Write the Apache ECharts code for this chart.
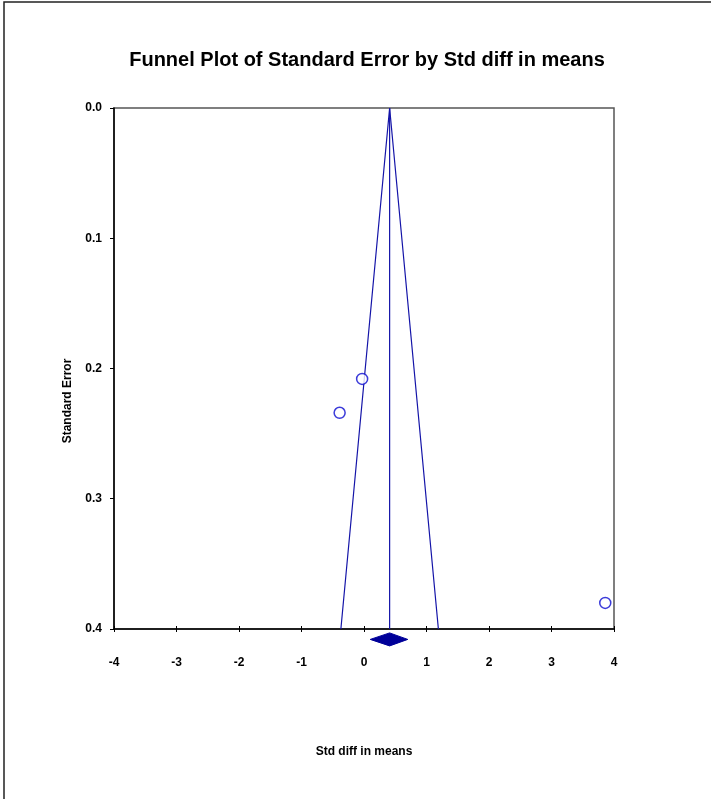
<!DOCTYPE html>
<html>
<head>
<meta charset="utf-8">
<script src="https://cdn.jsdelivr.net/npm/echarts@6/dist/echarts.min.js"></script>
<style>html,body{margin:0;padding:0;background:#fff}#c{width:711px;height:799px}</style>
</head>
<body>
<div id="c"></div>
<script>
// Study points: [Std diff in means, Standard Error]
const studyEffects = [-0.03, -0.39, 3.86];
const studyErrors = [0.208, 0.234, 0.380];
// Funnel: [x, se]
const funnelX = [-0.37, 0.41, 1.19];
const funnelSE = [0.4, 0.0, 0.4];
const centerX = [0.41, 0.41];
const centerSE = [0.0, 0.4];
// Pooled estimate diamond: lower, mean, upper
const pooled = [0.10, 0.41, 0.70];
const pooledSE = 0.408;
const xTicks = [-4, -3, -2, -1, 0, 1, 2, 3, 4];
const yTicks = ['0.0', '0.1', '0.2', '0.3', '0.4'];

const chart = echarts.init(document.getElementById('c'), null, {renderer: 'canvas'});
const blue = '#1414a8';
const font = '"Liberation Sans", Arial, sans-serif';

chart.setOption({
  animation: false,
  backgroundColor: '#fff',
  title: {
    text: 'Funnel Plot of Standard Error by Std diff in means',
    left: 362, top: 45, textAlign: 'center',
    textStyle: {fontFamily: font, fontWeight: 'bold', fontSize: 20, color: '#000'}
  },
  grid: {left: 114, top: 108, width: 500, height: 521, show: true, borderColor: '#555', borderWidth: 1.5, backgroundColor: 'transparent'},
  xAxis: [{
    type: 'value', min: xTicks[0], max: xTicks[xTicks.length - 1], interval: 1,
    position: 'bottom',
    axisLine: {show: true, onZero: false, lineStyle: {color: '#000', width: 1.5}},
    axisTick: {show: true, inside: true, length: 3, lineStyle: {color: '#000'}},
    axisLabel: {margin: 28, fontFamily: font, fontWeight: 'bold', fontSize: 12, color: '#000'},
    splitLine: {show: false}
  }, {
    type: 'value', min: xTicks[0], max: xTicks[xTicks.length - 1], interval: 1,
    position: 'bottom',
    axisLine: {show: false, onZero: false},
    axisTick: {show: true, inside: false, length: 3, lineStyle: {color: '#000'}},
    axisLabel: {show: false},
    splitLine: {show: false}
  }],
  yAxis: {
    type: 'value', min: 0, max: 0.4, interval: 0.1, inverse: true,
    axisLine: {show: true, onZero: false, lineStyle: {color: '#000', width: 1.5}},
    axisTick: {show: true, inside: false, length: 4, lineStyle: {color: '#000'}},
    axisLabel: {margin: 12, padding: [4, 0, 0, 0], fontFamily: font, fontWeight: 'bold', fontSize: 12, color: '#000',
      formatter: (v) => yTicks[Math.round(v * 10)] || v.toFixed(1)},
    splitLine: {show: false}
  },
  graphic: [
    {type: 'rect', shape: {x: 4, y: 2, width: 720, height: 820}, style: {fill: 'none', stroke: '#222', lineWidth: 1.5}, z: 100},
    {type: 'text', x: 68, y: 401, rotation: Math.PI / 2, style: {text: 'Standard Error', fontFamily: font, fontWeight: 'bold', fontSize: 12, fill: '#000', textAlign: 'center', textVerticalAlign: 'middle'}},
    {type: 'text', x: 364, y: 752, style: {text: 'Std diff in means', fontFamily: font, fontWeight: 'bold', fontSize: 12, fill: '#000', textAlign: 'center', textVerticalAlign: 'middle'}}
  ],
  series: [
    {
      type: 'line', data: funnelX.map((x, i) => [x, funnelSE[i]]),
      symbol: 'none', lineStyle: {color: blue, width: 1.2}, clip: false
    },
    {
      type: 'line', data: centerX.map((x, i) => [x, centerSE[i]]),
      symbol: 'none', lineStyle: {color: blue, width: 1.2}, clip: false
    },
    {
      type: 'scatter', data: studyEffects.map((x, i) => [x, studyErrors[i]]),
      symbol: 'circle', symbolSize: 11,
      itemStyle: {color: '#fff', borderColor: '#0a0ad0', borderWidth: 1.5}, clip: false, z: 5
    },
    {
      type: 'custom', clip: false, z: 6,
      data: [[pooled[0], pooled[1], pooled[2], pooledSE]],
      renderItem: function (params, api) {
        const l = api.coord([api.value(0), api.value(3)]);
        const m = api.coord([api.value(1), api.value(3)]);
        const r = api.coord([api.value(2), api.value(3)]);
        const h = 6.5;
        return {
          type: 'polygon',
          shape: {points: [[l[0], l[1]], [m[0], m[1] - h], [r[0], r[1]], [m[0], m[1] + h]]},
          style: {fill: '#000099', stroke: '#000099'}
        };
      }
    }
  ]
});
</script>
</body>
</html>
